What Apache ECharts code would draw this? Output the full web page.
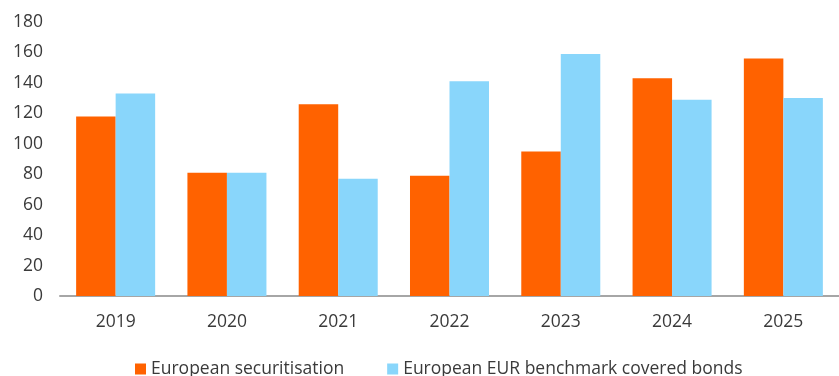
<!DOCTYPE html>
<html>
<head>
<meta charset="utf-8">
<script src="https://cdn.jsdelivr.net/npm/echarts@6/dist/echarts.min.js"></script>
<style>
  html, body { margin: 0; padding: 0; background: #fff; }
  #chart { width: 839px; height: 376px; }
</style>
</head>
<body>
<div id="chart"></div>
<script>
// Annual issuance: European securitisation vs EUR benchmark covered bonds
const years = ['2019', '2020', '2021', '2022', '2023', '2024', '2025'];
const securitisation = [118, 81, 126, 79, 95, 143, 156];
const coveredBonds = [133, 81, 77, 141, 159, 129, 130];
const yTicks = { min: 0, max: 180, interval: 20 };

const textColor = '#3a3a3a';
const fontFamily = '"Open Sans", "Noto Sans", sans-serif';

const chart = echarts.init(document.getElementById('chart'), null, { renderer: 'canvas' });
chart.setOption({
  animation: false,
  textStyle: { fontFamily: fontFamily },
  grid: { left: 60, right: -10, top: 22, bottom: 80 },
  legend: {
    top: 355,
    left: 130,
    width: 700,
    orient: 'horizontal',
    itemWidth: 11,
    itemHeight: 11,
    itemGap: 43,
    itemTextGap: 4,
    icon: 'rect',
    textStyle: { fontSize: 17.5, color: textColor, fontFamily: fontFamily },
    data: ['European securitisation', 'European EUR benchmark covered bonds']
  },
  xAxis: {
    type: 'category',
    data: years,
    axisLine: { lineStyle: { color: '#a6a6a6', width: 2 } },
    axisTick: { show: false },
    axisLabel: { color: textColor, fontSize: 17.5, margin: 17 }
  },
  yAxis: {
    type: 'value',
    min: yTicks.min,
    max: yTicks.max,
    interval: yTicks.interval,
    splitLine: { show: false },
    axisLine: { show: false },
    axisTick: { show: false },
    axisLabel: { color: textColor, fontSize: 17.5, margin: 17 }
  },
  series: [
    {
      name: 'European securitisation',
      type: 'bar',
      data: securitisation,
      barGap: '0%',
      barCategoryGap: '29%',
      itemStyle: { color: '#ff6200' }
    },
    {
      name: 'European EUR benchmark covered bonds',
      type: 'bar',
      data: coveredBonds,
      itemStyle: { color: '#89d6fb' }
    }
  ]
});
</script>
</body>
</html>
